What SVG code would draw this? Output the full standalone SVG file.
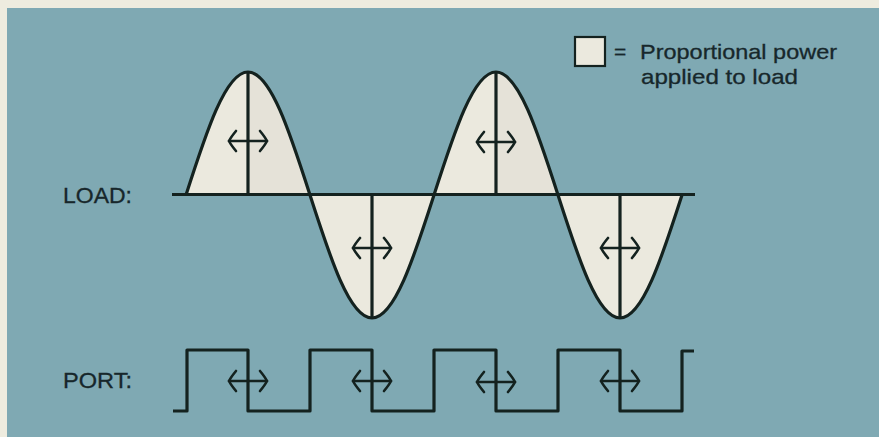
<svg xmlns="http://www.w3.org/2000/svg" width="879" height="437" viewBox="0 0 879 437">
<style>
.ink{fill:none;stroke:#14221f;stroke-width:3.2;stroke-linejoin:round;stroke-linecap:butt}
.thin{fill:none;stroke:#14221f;stroke-width:2.6;stroke-linecap:round;stroke-linejoin:round}
.lobe{fill:#ebe9de;stroke:none}
.lbl{font-family:"Liberation Sans",Arial,sans-serif;font-size:22px;fill:#17272b;stroke:#17272b;stroke-width:0.3}
.leg{font-family:"Liberation Sans",Arial,sans-serif;font-size:21px;fill:#17272b;stroke:#17272b;stroke-width:0.3}
</style>
<defs>
<g id="arr" class="thin">
<path d="M-19,0 H19"/>
<path d="M-12,-10 Q-17,-4 -19,0 Q-17,4 -12,10"/>
<path d="M12,-10 Q17,-4 19,0 Q17,4 12,10"/>
</g>
</defs>
<rect x="0" y="0" width="879" height="437" fill="#eeecdf"/>
<rect x="7" y="8" width="872" height="429" fill="#7fa9b3"/>

<g id="legend">
<rect x="575" y="37" width="30" height="29" fill="#ebe9de" stroke="#14221f" stroke-width="2.2"/>
<text class="leg" x="614" y="59">=</text>
<text class="leg" x="640" y="59" textLength="197" lengthAdjust="spacingAndGlyphs">Proportional power</text>
<text class="leg" x="641" y="84" textLength="157" lengthAdjust="spacingAndGlyphs">applied to load</text>
</g>

<g id="label-load"><text class="lbl" x="63" y="203" textLength="69" lengthAdjust="spacingAndGlyphs">LOAD:</text></g>
<g id="label-port"><text class="lbl" x="63" y="388" textLength="69" lengthAdjust="spacingAndGlyphs">PORT:</text></g>

<g id="load-wave">
<path class="lobe" d="M186,195 C206.2,132 225.6,72 248,72 C270.4,72 289.8,132 310,195 Z"/>
<path class="lobe" d="M310,195 C330.2,258 349.6,318 372,318 C394.4,318 413.8,258 434,195 Z"/>
<path class="lobe" d="M434,195 C454.2,132 473.6,72 496,72 C518.4,72 537.8,132 558,195 Z"/>
<path class="lobe" d="M558,195 C578.2,258 597.6,318 620,318 C642.4,318 661.8,258 682,195 Z"/>
<path fill="#d9d7cf" opacity="0.35" d="M250,74 C270.4,74 289.8,132 308,193 H250 Z"/>
<path fill="#d9d7cf" opacity="0.35" d="M498,74 C518.4,74 537.8,132 556,193 H498 Z"/>
<path class="ink" d="M186,195 C206.2,132 225.6,72 248,72 C270.4,72 289.8,132 310,195 C330.2,258 349.6,318 372,318 C394.4,318 413.8,258 434,195 C454.2,132 473.6,72 496,72 C518.4,72 537.8,132 558,195 C578.2,258 597.6,318 620,318 C642.4,318 661.8,258 682,195"/>
<path class="ink" d="M172,194.5 H695"/>
<path class="ink" d="M248,72 V195 M372,195 V318 M496,72 V195 M620,195 V318"/>
<use href="#arr" x="248" y="141"/>
<use href="#arr" x="372" y="248"/>
<use href="#arr" x="496" y="142"/>
<use href="#arr" x="620" y="248"/>
</g>

<g id="port-wave">
<path class="ink" d="M173,411 H187 V350 H248 V411 H310 V350 H372 V411 H434 V350 H496 V411 H558 V350 H620 V411 H682 V351 H694"/>
<use href="#arr" x="248" y="381"/>
<use href="#arr" x="372" y="381"/>
<use href="#arr" x="496" y="382"/>
<use href="#arr" x="620" y="381"/>
</g>
</svg>
